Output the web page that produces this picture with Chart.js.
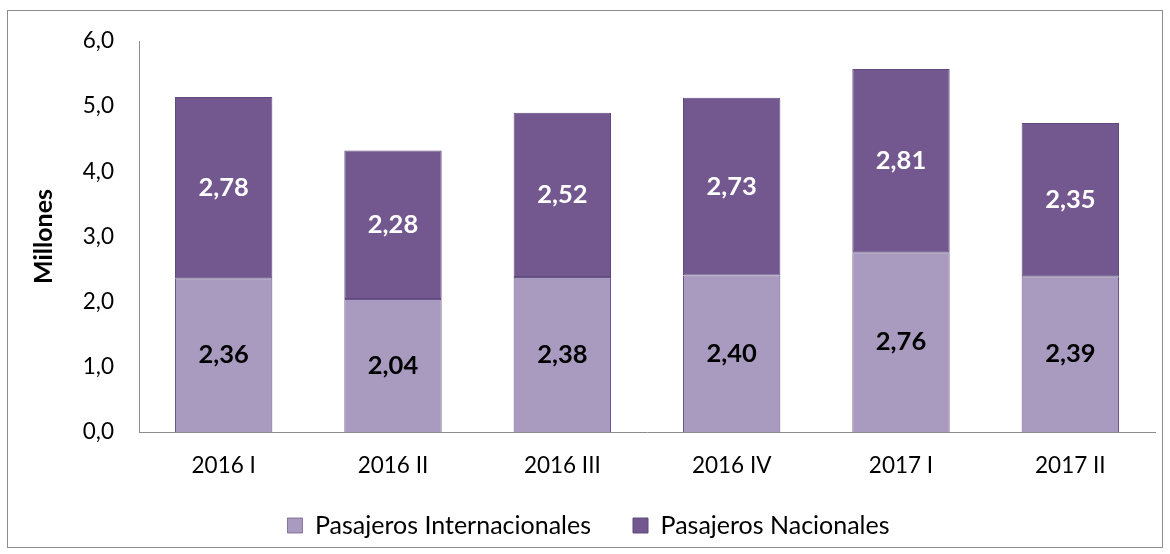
<!DOCTYPE html>
<html>
<head>
<meta charset="utf-8">
<script src="https://cdn.jsdelivr.net/npm/chart.js@4"></script>
<style>
  html, body { margin: 0; padding: 0; background: #fff; }
  #wrap { width: 1170px; height: 554px; }
</style>
</head>
<body>
<div id="wrap"><canvas id="chart01" width="1170" height="554"></canvas></div>
<script>
var periodos = ["2016 I", "2016 II", "2016 III", "2016 IV", "2017 I", "2017 II"];
var internacionales = [2.36, 2.04, 2.38, 2.40, 2.76, 2.39];
var nacionales = [2.78, 2.28, 2.52, 2.73, 2.81, 2.35];

var FONT = "Lato, 'Open Sans', sans-serif";

function coma(v, d) {
  return v.toFixed(d).replace('.', ',');
}

// marco gris alrededor del grafico
var marco = {
  id: 'marco',
  beforeDraw: function (chart) {
    var c = chart.ctx;
    c.save();
    c.strokeStyle = '#8c8c8c';
    c.lineWidth = 1;
    c.strokeRect(7.5, 10.5, 1155, 537);
    c.restore();
  }
};

// etiquetas de valor centradas en cada segmento
var etiquetas = {
  id: 'etiquetas',
  afterDatasetsDraw: function (chart) {
    var c = chart.ctx;
    c.save();
    c.font = "bold 25.5px " + FONT;
    c.textAlign = 'center';
    c.textBaseline = 'middle';
    chart.data.datasets.forEach(function (ds, i) {
      var meta = chart.getDatasetMeta(i);
      c.fillStyle = i == 0 ? '#000000' : '#ffffff';
      meta.data.forEach(function (bar, j) {
        var y = (bar.y + bar.base) / 2;
        c.fillText(coma(ds.data[j], 2), bar.x, y);
      });
    });
    c.restore();
  }
};

var ctx = document.getElementById('chart01').getContext('2d');
var myChart = new Chart(ctx, {
  type: 'bar',
  data: {
    labels: periodos,
    datasets: [{
      label: 'Pasajeros Internacionales',
      data: internacionales,
      backgroundColor: '#a99bbf',
      borderColor: '#6b5589',
      borderWidth: { left: 1, right: 1, top: 1, bottom: 0 },
      borderSkipped: false,
      categoryPercentage: 1,
      barPercentage: 0.575
    }, {
      label: 'Pasajeros Nacionales',
      data: nacionales,
      backgroundColor: '#72588e',
      borderColor: '#5e4a7c',
      borderWidth: 1,
      borderSkipped: false,
      categoryPercentage: 1,
      barPercentage: 0.575
    }]
  },
  options: {
    responsive: false,
    animation: false,
    layout: { padding: { left: 22, right: 15, top: 41, bottom: 6 } },
    plugins: {
      tooltip: { enabled: false },
      legend: {
        position: 'bottom',
        labels: {
          boxWidth: 15,
          boxHeight: 15,
          padding: 10,
          color: '#000',
          font: { family: FONT, size: 25 },
          generateLabels: function (chart) {
            var items = Chart.defaults.plugins.legend.labels.generateLabels(chart);
            items.forEach(function (it) { it.text = it.text + '     '; });
            items[items.length - 1].text = items[items.length - 1].text.trim();
            return items;
          }
        }
      }
    },
    scales: {
      x: {
        stacked: true,
        grid: { display: false },
        border: { display: true, color: '#8c8c8c', width: 1 },
        ticks: { color: '#000', padding: 12, font: { family: FONT, size: 22.5 } },
        afterFit: function (scale) { scale.height = 71; }
      },
      y: {
        stacked: true,
        min: 0,
        max: 6,
        grid: { display: false },
        border: { display: true, color: '#8c8c8c', width: 1 },
        ticks: {
          stepSize: 1,
          color: '#000',
          padding: 17,
          font: { family: FONT, size: 22.5 },
          callback: function (v) { return coma(v, 1); }
        },
        title: {
          display: true,
          text: 'Millones',
          color: '#000',
          padding: { top: 7, bottom: 0 },
          font: { family: FONT, size: 25, weight: 'bold' }
        },
        afterFit: function (scale) { scale.width = 117; }
      }
    }
  },
  plugins: [marco, etiquetas]
});
</script>
</body>
</html>
